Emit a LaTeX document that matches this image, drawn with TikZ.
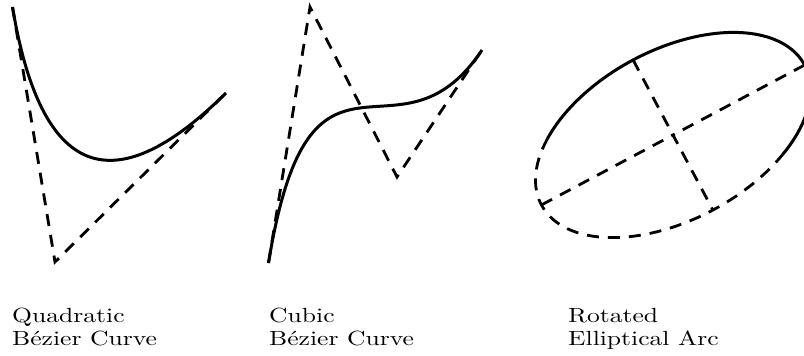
\documentclass[tikz,border=0pt]{standalone}
\usepackage{graphicx}
\usetikzlibrary{calc}
\newcommand{\lbltext}[1]{\scalebox{2.56}[2.05]{#1}}
\tikzset{
  curve/.style={line width=3pt},
  guide/.style={line width=2.8pt, dash pattern=on 12pt off 9pt},
  lbl/.style={anchor=base west, inner sep=0pt, font=\fontsize{10}{12}\selectfont}
}
\begin{document}
\begin{tikzpicture}[x=1pt,y=-1pt]
\useasboundingbox (0,0) rectangle (804,356);
\clip (0,0) rectangle (804,356);
% Quadratic Bezier
\coordinate (q0) at (12.5,7);
\coordinate (q1) at (55,262);
\coordinate (q2) at (226,93);
\draw[guide] (q0) -- (q1) -- (q2);
\draw[curve] (q0) .. controls ($(q0)!2/3!(q1)$) and ($(q2)!2/3!(q1)$) .. (q2);
% Cubic Bezier
\coordinate (c0) at (268.5,263);
\coordinate (c1) at (310,7);
\coordinate (c2) at (397,177);
\coordinate (c3) at (482,50);
\draw[guide] (c0) -- (c1) -- (c2) -- (c3);
\draw[curve] (c0) .. controls (c1) and (c2) .. (c3);
% Rotated elliptical arc
\coordinate (ec) at (673,135);
\begin{scope}[shift={(ec)}, rotate=28]
  \coordinate (majL) at (180:149pt);
  \coordinate (majR) at (0:149pt);
  \coordinate (minT) at (90:85pt);
  \coordinate (minB) at (270:85pt);
  \draw[curve] (-54:149pt and 85pt) arc[start angle=-54, end angle=139, x radius=149pt, y radius=85pt];
  \draw[guide] (139:149pt and 85pt) arc[start angle=139, end angle=306, x radius=149pt, y radius=85pt];
\end{scope}
\draw[guide] (majR) -- (ec) -- (minB);
\draw[guide] (minT) -- (ec);
\draw[guide] (majL) -- (ec);
% Labels
\node[lbl] (t1a) at (12,322) {\lbltext{Quadratic}};
\node[lbl] (t1b) at (12,345) {\lbltext{Bézier Curve}};
\node[lbl] (t2a) at (269,322) {\lbltext{Cubic}};
\node[lbl] (t2b) at (269,345) {\lbltext{Bézier Curve}};
\node[lbl] (t3a) at (568,322) {\lbltext{Rotated}};
\node[lbl] (t3b) at (568,345) {\lbltext{Elliptical Arc}};
\end{tikzpicture}
\end{document}
